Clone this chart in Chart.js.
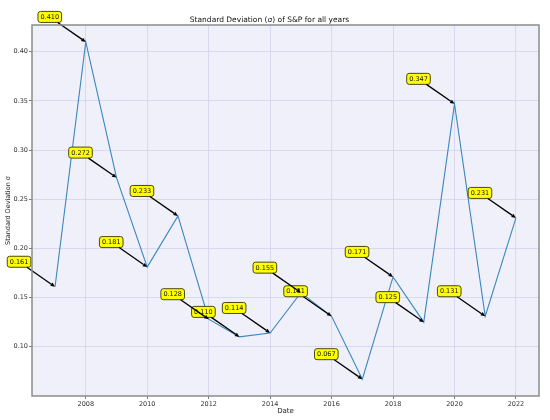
<!DOCTYPE html>
<html>
<head>
<meta charset="utf-8">
<script src="https://cdn.jsdelivr.net/npm/chart.js@4.4.0/dist/chart.umd.min.js"></script>
<style>
  html, body { margin: 0; padding: 0; background: #ffffff; }
  canvas { display: block; }
</style>
</head>
<body>
<canvas id="c" width="550" height="420"></canvas>
<script>
const years = [2007, 2008, 2009, 2010, 2011, 2012, 2013, 2014, 2015, 2016, 2017, 2018, 2019, 2020, 2021, 2022];
const sigma = [0.161, 0.410, 0.272, 0.181, 0.233, 0.128, 0.110, 0.114, 0.155, 0.131, 0.067, 0.171, 0.125, 0.347, 0.131, 0.231];
const labelTexts = sigma.map(v => v.toFixed(3));
const xTicks = [2008, 2010, 2012, 2014, 2016, 2018, 2020, 2022];
const yTicks = [0.10, 0.15, 0.20, 0.25, 0.30, 0.35, 0.40];

const FONT = "'DejaVu Sans', sans-serif";

const framePlugin = {
  id: 'frame',
  beforeDraw(chart) {
    const {ctx, chartArea: a} = chart;
    ctx.save();
    ctx.fillStyle = '#f0f0fb';
    ctx.fillRect(a.left, a.top, a.right - a.left, a.bottom - a.top);
    ctx.restore();
  },
  afterDatasetsDraw(chart) {
    const {ctx} = chart;
    const meta = chart.getDatasetMeta(0);
    ctx.save();
    ctx.font = '6.5px ' + FONT;
    ctx.textAlign = 'center';
    ctx.textBaseline = 'middle';
    const boxes = [];
    meta.data.forEach((pt, i) => {
      const px = pt.x, py = pt.y;
      const cx = px - 36, cy = py - 25;
      const tw = ctx.measureText(labelTexts[i]).width;
      const w = tw + 5, h = 11;
      boxes.push({px, py, cx, cy, w, h, t: labelTexts[i]});
    });
    boxes.forEach(b => {
      const x = b.cx - b.w / 2, y = b.cy - b.h / 2, r = 2.5;
      ctx.beginPath();
      ctx.moveTo(x + r, y);
      ctx.lineTo(x + b.w - r, y);
      ctx.quadraticCurveTo(x + b.w, y, x + b.w, y + r);
      ctx.lineTo(x + b.w, y + b.h - r);
      ctx.quadraticCurveTo(x + b.w, y + b.h, x + b.w - r, y + b.h);
      ctx.lineTo(x + r, y + b.h);
      ctx.quadraticCurveTo(x, y + b.h, x, y + b.h - r);
      ctx.lineTo(x, y + r);
      ctx.quadraticCurveTo(x, y, x + r, y);
      ctx.closePath();
      ctx.fillStyle = '#ffff00';
      ctx.fill();
      ctx.lineWidth = 1;
      ctx.strokeStyle = '#4a4a10';
      ctx.stroke();
      ctx.fillStyle = '#111111';
      ctx.fillText(b.t, b.cx, b.cy + 0.5);
    });
    boxes.forEach(b => {
      const dx = b.px - b.cx, dy = b.py - b.cy;
      const tx = (b.w / 2) / Math.abs(dx), ty = (b.h / 2) / Math.abs(dy);
      const t0 = Math.min(tx, ty);
      const sx = b.cx + dx * t0, sy = b.cy + dy * t0;
      const len = Math.hypot(dx, dy);
      const ux = dx / len, uy = dy / len;
      const hl = 4.5, hw = 2;
      const bx = b.px - ux * hl, by = b.py - uy * hl;
      ctx.beginPath();
      ctx.moveTo(sx, sy);
      ctx.lineTo(bx, by);
      ctx.strokeStyle = '#000000';
      ctx.lineWidth = 1.3;
      ctx.stroke();
      ctx.beginPath();
      ctx.moveTo(b.px, b.py);
      ctx.lineTo(bx - uy * hw, by + ux * hw);
      ctx.lineTo(bx + uy * hw, by - ux * hw);
      ctx.closePath();
      ctx.fillStyle = '#000000';
      ctx.fill();
    });
    ctx.restore();
  },
  afterDraw(chart) {
    const {ctx, chartArea: a} = chart;
    ctx.save();
    ctx.strokeStyle = '#8c8c8c';
    ctx.lineWidth = 1.5;
    ctx.strokeRect(a.left, a.top, a.right - a.left, a.bottom - a.top);
    ctx.restore();
  }
};

new Chart(document.getElementById('c'), {
  type: 'line',
  data: {
    datasets: [{
      data: years.map((y, i) => ({x: y, y: sigma[i]})),
      borderColor: '#3a87bd',
      borderWidth: 1.1,
      pointRadius: 0,
      tension: 0,
      fill: false
    }]
  },
  options: {
    responsive: false,
    animation: false,
    devicePixelRatio: 1,
    layout: { padding: { left: 0, right: 11, top: 0, bottom: 0 } },
    plugins: {
      legend: { display: false },
      tooltip: { enabled: false },
      title: {
        display: true,
        text: 'Standard Deviation (σ) of S&P for all years',
        color: '#111111',
        font: { family: FONT, size: 7.5, weight: 'normal' },
        padding: { top: 15.5, bottom: 0.5 }
      }
    },
    scales: {
      x: {
        type: 'linear',
        min: 2006.25,
        max: 2022.75,
        afterBuildTicks: s => { s.ticks = xTicks.map(v => ({value: v})); },
        afterFit: s => { s.height = 24; },
        grid: { color: '#d2d2f0', lineWidth: 0.8, tickLength: 3, tickColor: '#555555', drawTicks: true },
        border: { display: false },
        ticks: {
          color: '#333333', padding: 1, maxRotation: 0, autoSkip: false,
          font: { family: FONT, size: 6.5 },
          callback: v => String(v)
        },
        title: {
          display: true, text: 'Date', color: '#222222',
          font: { family: FONT, size: 7 },
          padding: { top: 0, bottom: 5 }
        }
      },
      y: {
        type: 'linear',
        min: 0.0499,
        max: 0.4272,
        afterBuildTicks: s => { s.ticks = yTicks.map(v => ({value: v})); },
        afterFit: s => { s.width = 32; },
        grid: { color: '#d2d2f0', lineWidth: 0.8, tickLength: 3, tickColor: '#555555', drawTicks: true },
        border: { display: false },
        ticks: {
          color: '#333333', padding: 1, autoSkip: false,
          font: { family: FONT, size: 6.5 },
          callback: v => v.toFixed(2)
        },
        title: {
          display: true, text: 'Standard Deviation σ', color: '#222222',
          font: { family: FONT, size: 6.5 },
          padding: { top: 4, bottom: 0 }
        }
      }
    }
  },
  plugins: [framePlugin]
});
</script>
</body>
</html>
